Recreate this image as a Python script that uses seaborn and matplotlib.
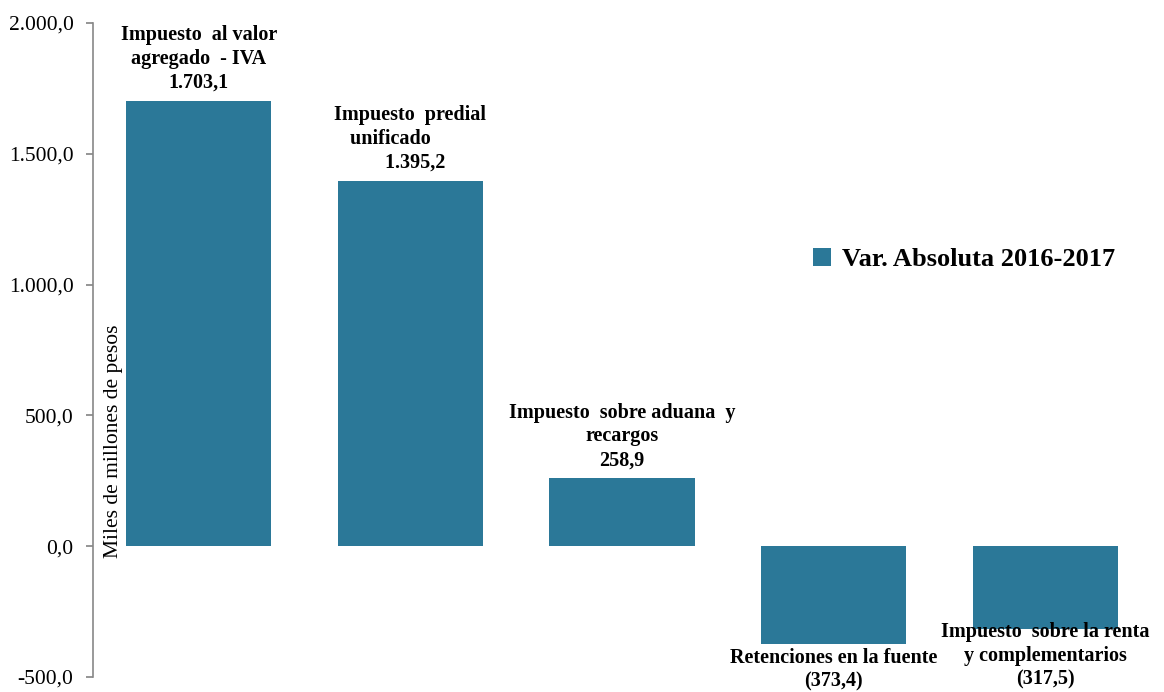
import numpy as np
import pandas as pd
import matplotlib
matplotlib.use("Agg")
import matplotlib.pyplot as plt
import matplotlib.ticker as mticker
import seaborn as sns

# data
categorias = [
    "Impuesto  al valor\nagregado  - IVA",
    "Impuesto  predial\nunificado        ",
    "Impuesto  sobre aduana  y\nrecargos",
    "Retenciones en la fuente",
    "Impuesto  sobre la renta\ny complementarios",
]
var_absoluta = [1703.1, 1395.2, 258.9, -373.4, -317.5]
serie = "Var. Absoluta 2016-2017"
y_ticks = [-500, 0, 500, 1000, 1500, 2000]

COLOR = "#2B7898"


def fmt_es(v):
    s = f"{abs(v):,.1f}".replace(",", "X").replace(".", ",").replace("X", ".")
    return f"({s})" if v < 0 else s


sns.set_theme(style="white")
plt.rcParams["font.family"] = ["Liberation Serif", "DejaVu Serif"]
plt.rcParams["text.color"] = "black"
plt.rcParams["ytick.labelcolor"] = "black"

df = pd.DataFrame({"cat": categorias, "valor": var_absoluta, "serie": serie})

fig = plt.figure(figsize=(11.64, 6.92), dpi=100)
ax = fig.add_axes([93 / 1164, 15 / 692, (1151 - 93) / 1164, (677 - 23) / 692])

sns.barplot(data=df, x="cat", y="valor", hue="serie", palette=[COLOR],
            width=0.686, ax=ax, saturation=1, legend=True, linewidth=0)

ax.set_ylim(-500, 2000)
ax.set_xlim(-0.5, 4.5)
ax.set_yticks(y_ticks)
ax.yaxis.set_major_formatter(mticker.FuncFormatter(lambda v, p: fmt_es(v) if v >= 0 else "-" + fmt_es(-v)))
ax.tick_params(axis="y", labelsize=15.5, length=5, color="#888888", left=True,
               pad=9, labelcolor="black")
ax.set_xticks([])
ax.set_xlabel("")
ax.set_ylabel("")
for s in ["top", "right", "bottom"]:
    ax.spines[s].set_visible(False)
ax.spines["left"].set_color("#888888")
ax.spines["left"].set_linewidth(1.2)

ax.text(0.019, 0.36, "Miles de millones de pesos", transform=ax.transAxes,
        rotation=90, ha="center", va="center", fontsize=15.5, color="black")

# etiquetas de las barras
offsets = [6, 6, 6, -3, 5]
for i, (cat, v) in enumerate(zip(categorias, var_absoluta)):
    num = fmt_es(v)
    if i == 1:
        num = "  " + num
    txt = cat + "\n" + num
    ax.annotate(txt, (i, v), xytext=(0, offsets[i]), textcoords="offset points",
                ha="center", va="bottom" if v >= 0 else "top",
                fontsize=14.5, fontweight="bold", linespacing=1.25,
                color="black", annotation_clip=False)

leg = ax.legend(loc="center left", bbox_to_anchor=(0.658, 0.638), frameon=False,
                prop={"size": 19, "weight": "bold"}, handlelength=0.7,
                handleheight=0.7, handletextpad=0.4, labelcolor="black")

fig.savefig("out.png", dpi=100)
